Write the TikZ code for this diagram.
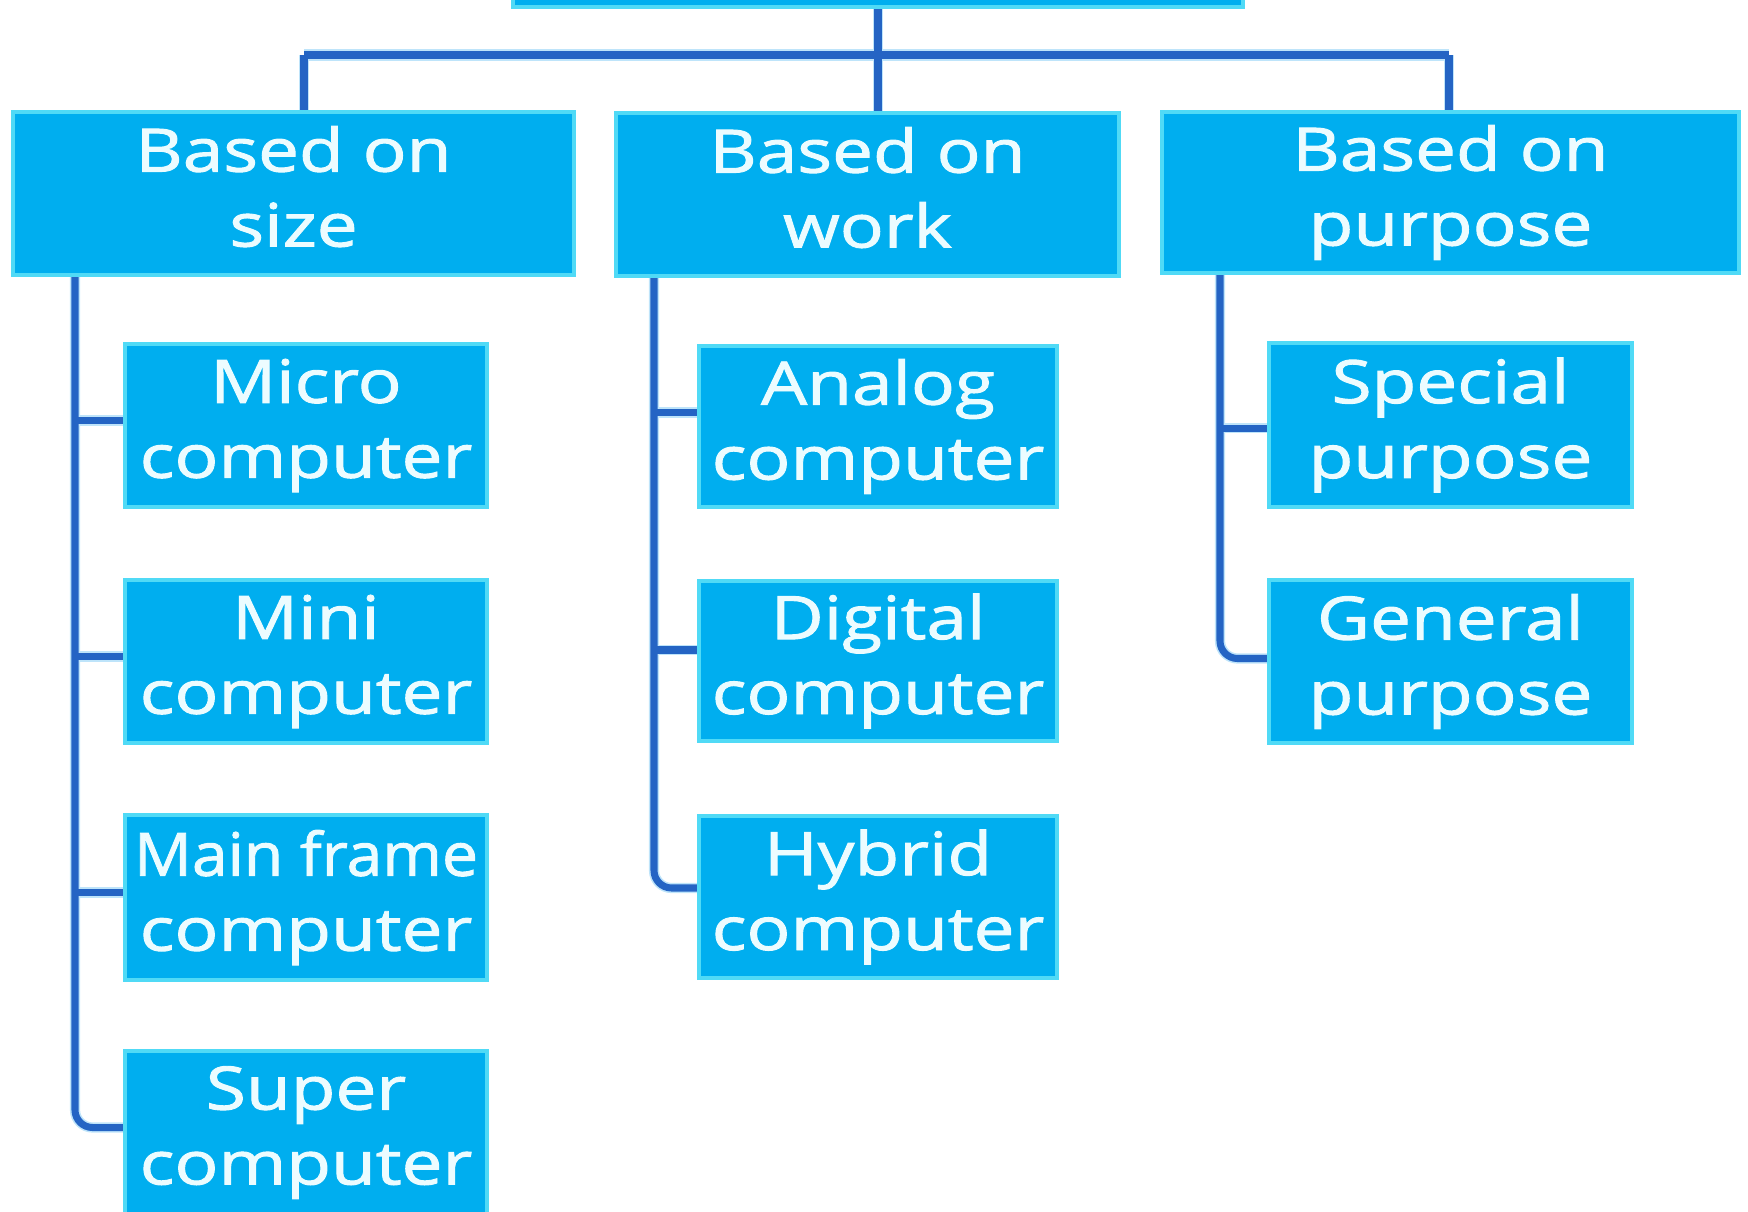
\documentclass[tikz,border=0pt]{standalone}
\usepackage{fontspec}
\setmainfont{Open Sans}[FakeStretch=1.22, FakeBold=1.6]
\usetikzlibrary{backgrounds}
\definecolor{boxfill}{RGB}{0,174,239}
\definecolor{boxedge}{RGB}{80,218,246}
\definecolor{linecol}{RGB}{36,100,196}
\definecolor{halo}{RGB}{190,228,250}
\definecolor{txt}{RGB}{236,252,255}
\newcommand\twolines[2]{\vphantom{Hp}#1\\\vphantom{Hp}#2}
\begin{document}
\begin{tikzpicture}[x=0.01cm,y=-0.01cm,
  box/.style={draw=boxedge, line width=1.1pt, fill=boxfill, text=txt, align=center,
    inner sep=0pt, font=\fontsize{17}{21.3}\selectfont},
  conn-halo/.style={draw=halo, line width=2.9pt},
  conn-core/.style={draw=linecol, line width=2pt},
  bus-halo/.style={draw=halo, line width=3.4pt},
  bus-core/.style={draw=linecol, line width=2.3pt}]
\useasboundingbox (0,0) rectangle (1748,1211);
\clip (0,0) rectangle (1748,1211);

% root (mostly cut off at the top)
\node[box, minimum width=7.30cm, minimum height=1.64cm] (root) at (878,-75) {};

% level 1
\node[box, minimum width=5.61cm, minimum height=1.63cm] (size) at (293.5,193.5) {\twolines{Based on}{size}};
\node[box, minimum width=5.03cm, minimum height=1.63cm] (work) at (867.5,194.5) {\twolines{Based on}{work}};
\node[box, minimum width=5.77cm, minimum height=1.61cm] (purpose) at (1450.5,192.5) {\twolines{Based on}{purpose}};

% level 2, left
\node[box, minimum width=3.62cm, minimum height=1.63cm] (micro) at (306,425.5) {\twolines{Micro}{computer}};
\node[box, minimum width=3.62cm, minimum height=1.63cm] (mini) at (306,661.5) {\twolines{Mini}{computer}};
\node[box, minimum width=3.62cm, minimum height=1.65cm] (mainf) at (306,897.5) {\twolines{\scalebox{0.88}[1]{Main frame}}{computer}};
\node[box, minimum width=3.62cm, minimum height=1.63cm] (super) at (306,1132.5) {\twolines{Super}{computer}};

% level 2, middle
\node[box, minimum width=3.58cm, minimum height=1.61cm] (analog) at (878,426.5) {\twolines{Analog}{computer}};
\node[box, minimum width=3.58cm, minimum height=1.60cm] (digital) at (878,661) {\twolines{Digital}{computer}};
\node[box, minimum width=3.58cm, minimum height=1.62cm] (hybrid) at (878,897) {\twolines{Hybrid}{computer}};

% level 2, right
\node[box, minimum width=3.63cm, minimum height=1.64cm] (special) at (1450.5,425) {\twolines{Special}{purpose}};
\node[box, minimum width=3.63cm, minimum height=1.63cm] (general) at (1450.5,661.5) {\twolines{General}{purpose}};

\coordinate (bL) at (304,55);
\coordinate (bR) at (1449,55);
\coordinate (ls) at (75,270);
\coordinate (l1) at ([yshift=0.05cm]micro.west);
\coordinate (l2) at ([yshift=0.05cm]mini.west);
\coordinate (l3) at ([yshift=0.05cm]mainf.west);
\coordinate (l4) at ([yshift=0.05cm]super.west);
\coordinate (ms) at (654,270);
\coordinate (m1) at ([yshift=0.14cm]analog.west);
\coordinate (m2) at ([yshift=0.11cm]digital.west);
\coordinate (m3) at ([yshift=0.09cm]hybrid.west);
\coordinate (rs) at (1220,268);
\coordinate (r1) at ([yshift=-0.03cm]special.west);
\coordinate (r2) at ([yshift=0.03cm]general.west);

\begin{scope}[on background layer]
  \foreach \pass in {halo,core}{
    % bus and drops
    \draw[conn-\pass] (root.south) -- (root.south |- work.north);
    \draw[conn-\pass] (bL) -- (bL |- size.north);
    \draw[conn-\pass] (bR) -- (bR |- purpose.north);
    \draw[bus-\pass] (bL) -- (bR);
    % left column
    \draw[conn-\pass, rounded corners=5pt] (ls) |- (l4);
    \draw[conn-\pass] (ls |- l1) -- (l1);
    \draw[conn-\pass] (ls |- l2) -- (l2);
    \draw[conn-\pass] (ls |- l3) -- (l3);
    % middle column
    \draw[conn-\pass, rounded corners=5pt] (ms) |- (m3);
    \draw[conn-\pass] (ms |- m1) -- (m1);
    \draw[conn-\pass] (ms |- m2) -- (m2);
    % right column
    \draw[conn-\pass, rounded corners=5pt] (rs) |- (r2);
    \draw[conn-\pass] (rs |- r1) -- (r1);
  }
\end{scope}
\end{tikzpicture}
\end{document}
